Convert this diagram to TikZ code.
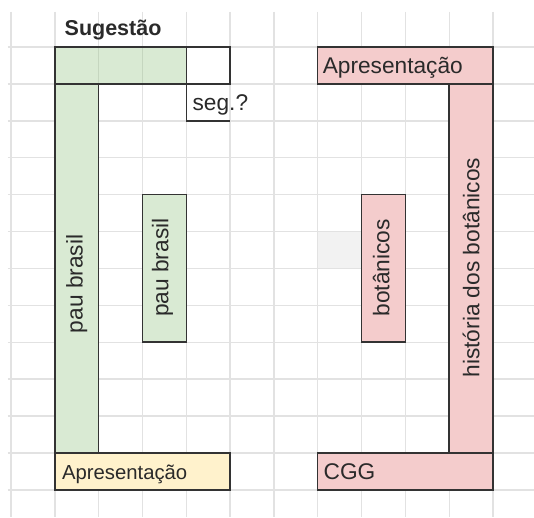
\documentclass[tikz,border=0pt]{standalone}
\usepackage{fontspec}
\setmainfont{Liberation Sans}
\definecolor{gridc}{HTML}{E2E2E2}
\definecolor{greenf}{HTML}{D9EAD3}
\definecolor{greenl}{HTML}{C5D6BF}
\definecolor{yellowf}{HTML}{FFF2CC}
\definecolor{pinkf}{HTML}{F4CCCC}
\definecolor{grayf}{HTML}{F2F2F2}
\definecolor{bordc}{HTML}{333333}
\definecolor{txtc}{HTML}{2A2A2A}
\tikzset{
  gridline/.style={draw=gridc, line width=1.4pt},
  cellbox/.style={draw=bordc, line width=1.5pt},
  lbl/.style={inner sep=0pt, text=txtc, font=\fontsize{22.7}{26}\selectfont},
  lblsmall/.style={inner sep=0pt, text=txtc, font=\fontsize{20.3}{24}\selectfont},
  lblbold/.style={inner sep=0pt, text=txtc, font=\fontsize{21.5}{25}\selectfont\bfseries},
}
\begin{document}
\begin{tikzpicture}[x=1pt,y=1pt]
\useasboundingbox (0,0) rectangle (534,-517);
\fill[white] (0,0) rectangle (534,-517);
\begin{scope}[shift={(11pt,-47pt)}, x=43.82pt, y=-36.9pt]
  % gray cell
  \fill[grayf] (7,5) rectangle (8,6);
  % grid
  \foreach \c in {0,...,11} \draw[gridline] (\c,-0.95) -- (\c,12.74);
  \foreach \r in {0,...,12} \draw[gridline] (-0.07,\r) -- (11.94,\r);
  % green shapes
  \fill[greenf] (1,0) rectangle (4,1);
  \draw[greenl, line width=1.2pt] (2,0) -- (2,1) (3,0) -- (3,1);
  \draw[cellbox] (1,0) rectangle (4,1);
  \draw[cellbox] (4,0) rectangle (5,1);
  \draw[cellbox] (4,1) -- (4,2) -- (5,2);
  \draw[cellbox, fill=greenf] (1,1) rectangle (2,11);
  \draw[cellbox, fill=greenf] (3,4) rectangle (4,8);
  \draw[cellbox, fill=yellowf] (1,11) rectangle (5,12);
  % pink shapes
  \draw[cellbox, fill=pinkf] (7,0) rectangle (11,1);
  \draw[cellbox, fill=pinkf] (10,1) rectangle (11,11);
  \draw[cellbox, fill=pinkf] (8,4) rectangle (9,8);
  \draw[cellbox, fill=pinkf] (7,11) rectangle (11,12);
  % texts
  \node[lblbold, anchor=base west] (sug) at (1.22,-0.30) {Sugestão};
  \node[lbl, anchor=base west] (seg) at (4.14,1.71) {seg.?};
  \node[lbl, anchor=base west] (apr1) at (7.11,0.71) {Apresentação};
  \node[lblsmall, anchor=base west] (apr2) at (1.16,11.73) {Apresentação};
  \node[lbl, anchor=base west] (cgg) at (7.13,11.71) {CGG};
  \node[lbl, rotate=90] (pb1) at (1.5,6.42) {pau brasil};
  \node[lbl, rotate=90] (pb2) at (3.46,5.98) {pau brasil};
  \node[lbl, rotate=90] (bot) at (8.45,5.98) {botânicos};
  \node[lbl, rotate=90] (hist) at (10.5,5.98) {história dos botânicos};
\end{scope}
\end{tikzpicture}
\end{document}
